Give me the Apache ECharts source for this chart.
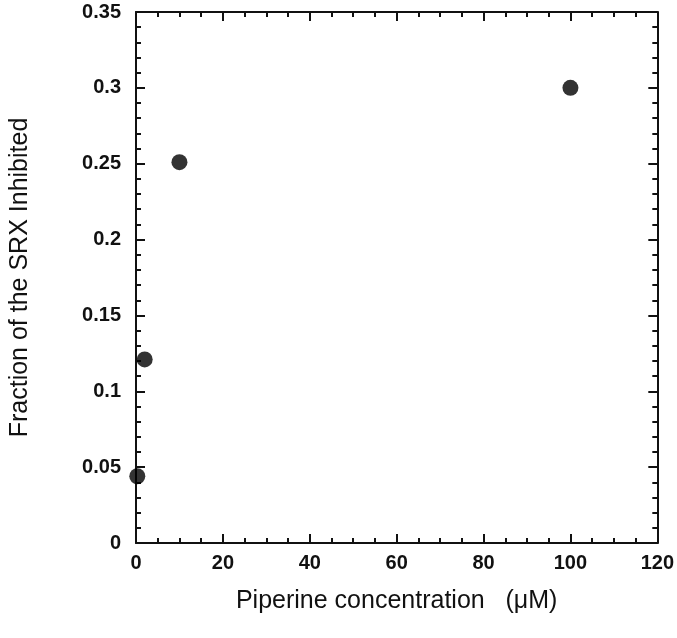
<!DOCTYPE html>
<html>
<head>
<meta charset="utf-8">
<script src="https://cdn.jsdelivr.net/npm/echarts@6/dist/echarts.min.js"></script>
<style>
  html, body { margin: 0; padding: 0; background: #fff; }
  #chart { width: 677px; height: 638px; }
</style>
</head>
<body>
<div id="chart"></div>
<script>
// piperine concentration (uM) vs fraction of SRX inhibited
const concentration = [0.3, 2, 10, 100];
const fractionInhibited = [0.044, 0.121, 0.251, 0.300];

const xTitle = "Piperine concentration   (\u03bcM)";
const yTitle = "Fraction of the SRX Inhibited";

const FONT = "Liberation Sans, Arial, sans-serif";
const INK = "#111";

const chart = echarts.init(document.getElementById("chart"), null, { renderer: "canvas" });

function frameAxis(extra) {
  // shared look for all four sides; ticks point inward
  return Object.assign({
    type: "value",
    axisLine: { show: true, onZero: false, lineStyle: { color: INK, width: 2 } },
    axisTick: { show: true, inside: true, length: 9, lineStyle: { color: INK, width: 2 } },
    splitLine: { show: false },
    minorSplitLine: { show: false },
  }, extra);
}

const labelStyle = { color: INK, fontFamily: FONT, fontWeight: "bold", fontSize: 20 };
const titleStyle = { color: INK, fontFamily: FONT, fontSize: 25 };

chart.setOption({
  animation: false,
  backgroundColor: "#fff",
  grid: { left: 128, right: 19, top: 12, bottom: 95, containLabel: false },
  xAxis: [
    frameAxis({
      position: "bottom",
      min: 0, max: 120, interval: 20,
      minorTick: { show: true, splitNumber: 4, length: 5, lineStyle: { color: INK, width: 2 } },
      axisLabel: Object.assign({ margin: 10 }, labelStyle),
      name: xTitle,
      nameLocation: "middle",
      nameGap: 46,
      nameTextStyle: titleStyle,
    }),
    frameAxis({
      position: "top",
      min: 0, max: 120, interval: 20,
      minorTick: { show: true, splitNumber: 4, length: 5, lineStyle: { color: INK, width: 2 } },
      axisLabel: { show: false },
    }),
  ],
  yAxis: [
    frameAxis({
      position: "left",
      min: 0, max: 0.35, interval: 0.05,
      minorTick: { show: true, splitNumber: 5, length: 5, lineStyle: { color: INK, width: 2 } },
      axisLabel: Object.assign({ margin: 15 }, labelStyle),
      name: yTitle,
      nameLocation: "middle",
      nameGap: 103,
      nameTextStyle: titleStyle,
    }),
    frameAxis({
      position: "right",
      min: 0, max: 0.35, interval: 0.05,
      minorTick: { show: true, splitNumber: 5, length: 5, lineStyle: { color: INK, width: 2 } },
      axisLabel: { show: false },
    }),
  ],
  series: [
    {
      type: "scatter",
      xAxisIndex: 0,
      yAxisIndex: 0,
      symbol: "circle",
      symbolSize: 16,
      clip: false,
      itemStyle: { color: "#000" },
      data: concentration.map((x, i) => [x, fractionInhibited[i]]),
    },
  ],
});
</script>
</body>
</html>
